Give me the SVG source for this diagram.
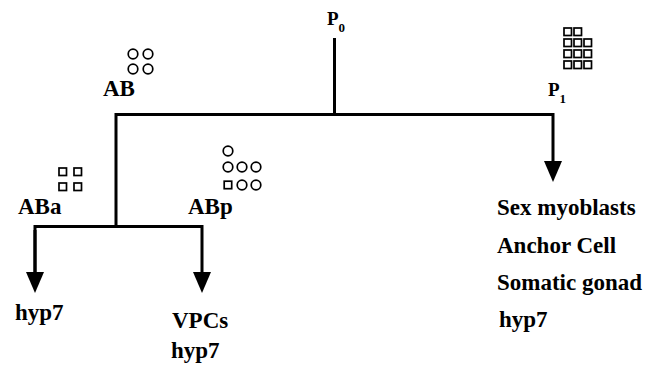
<svg xmlns="http://www.w3.org/2000/svg" width="657" height="367" viewBox="0 0 657 367">
  <style>
    .lbl { font-family: "Liberation Serif", "Times New Roman", "DejaVu Serif", serif; font-weight: bold; font-size: 23px; fill: #000; }
    .p { font-size: 19px; }
    .sub { font-size: 13px; }
    .wire { fill: none; stroke: #000; stroke-width: 3; stroke-linejoin: miter; }
    .cell { fill: none; stroke: #000; stroke-width: 1.7; }
  </style>
  <defs>
    <marker id="head" markerUnits="userSpaceOnUse" markerWidth="22" markerHeight="20" refX="0" refY="9" orient="auto">
      <path d="M0,0 L21,9 L0,18 z" fill="#000"/>
    </marker>
    <circle id="c" r="4.8" class="cell"/>
    <rect id="s" width="7.5" height="7.5" class="cell"/>
  </defs>

  <rect width="657" height="367" fill="#fff"/>

  <!-- lineage tree -->
  <g id="connectors">
    <path class="wire" d="M334.5,38 V114.5"/>
    <path class="wire" d="M116,226.5 V114.5 H553 V161" marker-end="url(#head)"/>
    <path class="wire" d="M35,272 V226.5 H202 V272" marker-end="url(#head)"/>
    <path class="wire" d="M35,230 V272" marker-end="url(#head)"/>
  </g>

  <g id="P0">
    <text class="lbl p" x="327" y="25" font-family="Liberation Serif, serif">P<tspan class="sub" dy="7">0</tspan></text>
  </g>

  <g id="AB">
    <text class="lbl" x="103" y="96" font-family="Liberation Serif, serif">AB</text>
    <use href="#c" x="133" y="54"/>
    <use href="#c" x="148" y="54"/>
    <use href="#c" x="133" y="69"/>
    <use href="#c" x="148" y="69"/>
  </g>

  <g id="P1">
    <text class="lbl p" x="548" y="96" font-family="Liberation Serif, serif">P<tspan class="sub" dy="7">1</tspan></text>
    <use href="#s" x="564" y="28"/>
    <use href="#s" x="574" y="28"/>
    <use href="#s" x="564" y="39"/>
    <use href="#s" x="574" y="39"/>
    <use href="#s" x="584" y="39"/>
    <use href="#s" x="564" y="50"/>
    <use href="#s" x="574" y="50"/>
    <use href="#s" x="584" y="50"/>
    <use href="#s" x="564" y="61"/>
    <use href="#s" x="574" y="61"/>
    <use href="#s" x="584" y="61"/>
  </g>

  <g id="ABa">
    <text class="lbl" x="18" y="214" font-family="Liberation Serif, serif">ABa</text>
    <use href="#s" x="59" y="168"/>
    <use href="#s" x="74" y="168"/>
    <use href="#s" x="59" y="183"/>
    <use href="#s" x="74" y="183"/>
  </g>

  <g id="ABp">
    <text class="lbl" x="188" y="214" font-family="Liberation Serif, serif">ABp</text>
    <use href="#c" x="228" y="151"/>
    <use href="#c" x="228" y="167"/>
    <use href="#c" x="242" y="167"/>
    <use href="#c" x="256" y="167"/>
    <use href="#s" x="224.2" y="181.2"/>
    <use href="#c" x="242" y="185"/>
    <use href="#c" x="256" y="185"/>
  </g>

  <g id="ABa-fate">
    <text class="lbl" x="15" y="320" font-family="Liberation Serif, serif">hyp7</text>
  </g>

  <g id="ABp-fate">
    <text class="lbl" x="172" y="328" font-family="Liberation Serif, serif">VPCs</text>
    <text class="lbl" x="171" y="358" font-family="Liberation Serif, serif">hyp7</text>
  </g>

  <g id="P1-fate">
    <text class="lbl" x="497" y="215" font-family="Liberation Serif, serif">Sex myoblasts</text>
    <text class="lbl" x="497" y="253" font-family="Liberation Serif, serif">Anchor Cell</text>
    <text class="lbl" x="497" y="290" font-family="Liberation Serif, serif">Somatic gonad</text>
    <text class="lbl" x="499" y="327" font-family="Liberation Serif, serif">hyp7</text>
  </g>
</svg>
